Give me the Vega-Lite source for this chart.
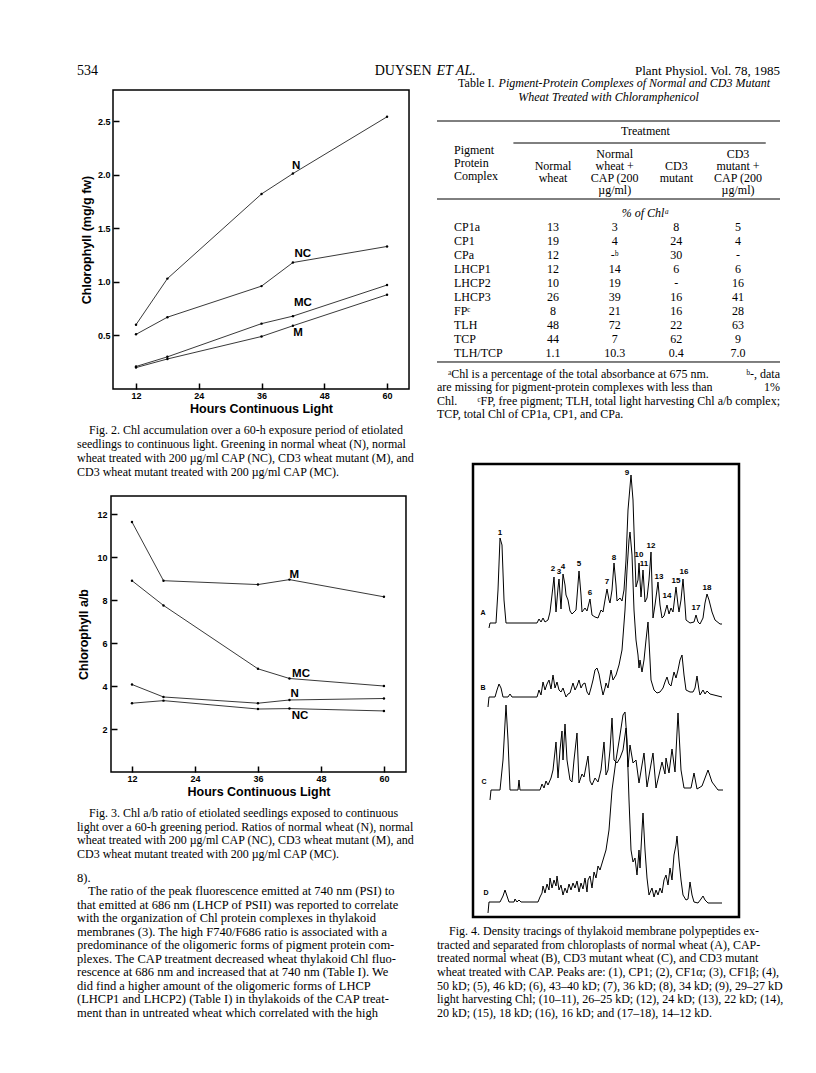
{
 "$schema": "https://vega.github.io/schema/vega-lite/v6.json",
 "background": "white",
 "padding": {"left": 77, "top": 64, "right": 0, "bottom": 0},
 "config": {
  "view": {"stroke": null},
  "axis": {"grid": false, "domain": false, "ticks": true, "tickColor": "black", "tickWidth": 1.5, "tickSize": -6, "labelFont": "Liberation Sans", "labelFontWeight": "bold", "labelFontSize": 9, "labelColor": "black", "titleFont": "Liberation Sans", "titleFontWeight": "bold", "titleFontSize": 12.5, "titleColor": "black"},
  "text": {"font": "Liberation Serif", "fontSize": 12, "color": "black"}
 },
 "datasets": {
  "fig2": [
   {"series":"N","hours":12,"chl":0.6},{"series":"N","hours":18,"chl":1.03},{"series":"N","hours":36,"chl":1.82},{"series":"N","hours":42,"chl":2.01},{"series":"N","hours":60,"chl":2.54},
   {"series":"NC","hours":12,"chl":0.51},{"series":"NC","hours":18,"chl":0.67},{"series":"NC","hours":36,"chl":0.96},{"series":"NC","hours":42,"chl":1.18},{"series":"NC","hours":60,"chl":1.33},
   {"series":"MC","hours":12,"chl":0.21},{"series":"MC","hours":18,"chl":0.3},{"series":"MC","hours":36,"chl":0.61},{"series":"MC","hours":42,"chl":0.68},{"series":"MC","hours":60,"chl":0.97},
   {"series":"M","hours":12,"chl":0.2},{"series":"M","hours":18,"chl":0.28},{"series":"M","hours":36,"chl":0.49},{"series":"M","hours":42,"chl":0.59},{"series":"M","hours":60,"chl":0.88}
  ],
  "fig2labels": [{"series":"N","hours":42.6,"chl":2.08},{"series":"NC","hours":43.9,"chl":1.26},{"series":"MC","hours":43.9,"chl":0.8},{"series":"M","hours":43,"chl":0.52}],
  "fig3": [
   {"series":"M","hours":12,"ratio":11.63},{"series":"M","hours":18,"ratio":8.9},{"series":"M","hours":36,"ratio":8.72},{"series":"M","hours":42,"ratio":8.95},{"series":"M","hours":60,"ratio":8.15},
   {"series":"MC","hours":12,"ratio":8.9},{"series":"MC","hours":18,"ratio":7.75},{"series":"MC","hours":36,"ratio":4.8},{"series":"MC","hours":42,"ratio":4.35},{"series":"MC","hours":60,"ratio":4.0},
   {"series":"N","hours":12,"ratio":4.07},{"series":"N","hours":18,"ratio":3.49},{"series":"N","hours":36,"ratio":3.2},{"series":"N","hours":42,"ratio":3.35},{"series":"N","hours":60,"ratio":3.42},
   {"series":"NC","hours":12,"ratio":3.2},{"series":"NC","hours":18,"ratio":3.32},{"series":"NC","hours":36,"ratio":2.93},{"series":"NC","hours":42,"ratio":2.95},{"series":"NC","hours":60,"ratio":2.84}
  ],
  "fig3labels": [{"series":"M","hours":42.9,"ratio":9.16},{"series":"MC","hours":44.2,"ratio":4.56},{"series":"N","hours":43,"ratio":3.63},{"series":"NC","hours":44,"ratio":2.6}],
  "fig4": [
   {"t":"A","d":16,"v":289},{"t":"A","d":17,"v":294},{"t":"A","d":23,"v":294},{"t":"A","d":25,"v":327},{"t":"A","d":27,"v":379},{"t":"A","d":29,"v":372},{"t":"A","d":31,"v":317},{"t":"A","d":33,"v":294},{"t":"A","d":64,"v":294},{"t":"A","d":66,"v":298},{"t":"A","d":68,"v":295},{"t":"A","d":70,"v":299},{"t":"A","d":72,"v":295},{"t":"A","d":75,"v":297},{"t":"A","d":77,"v":305},{"t":"A","d":79,"v":322},{"t":"A","d":81,"v":340},{"t":"A","d":83,"v":305},{"t":"A","d":85,"v":329},{"t":"A","d":86,"v":338},{"t":"A","d":88,"v":308},{"t":"A","d":90,"v":343},{"t":"A","d":92,"v":332},{"t":"A","d":93,"v":322},{"t":"A","d":95,"v":317},{"t":"A","d":97,"v":306},{"t":"A","d":99,"v":303},{"t":"A","d":101,"v":305},{"t":"A","d":103,"v":307},{"t":"A","d":106,"v":346},{"t":"A","d":108,"v":322},{"t":"A","d":109,"v":305},{"t":"A","d":112,"v":309},{"t":"A","d":114,"v":306},{"t":"A","d":117,"v":318},{"t":"A","d":119,"v":302},{"t":"A","d":122,"v":300},{"t":"A","d":125,"v":299},{"t":"A","d":128,"v":307},{"t":"A","d":130,"v":305},{"t":"A","d":132,"v":317},{"t":"A","d":134,"v":328},{"t":"A","d":136,"v":317},{"t":"A","d":137,"v":314},{"t":"A","d":139,"v":327},{"t":"A","d":141,"v":354},{"t":"A","d":143,"v":332},{"t":"A","d":144,"v":316},{"t":"A","d":147,"v":319},{"t":"A","d":149,"v":316},{"t":"A","d":151,"v":327},{"t":"A","d":153,"v":357},{"t":"A","d":155,"v":407},{"t":"A","d":158,"v":442},{"t":"A","d":160,"v":417},{"t":"A","d":162,"v":357},{"t":"A","d":163,"v":330},{"t":"A","d":165,"v":337},{"t":"A","d":166,"v":354},{"t":"A","d":168,"v":320},{"t":"A","d":170,"v":347},{"t":"A","d":172,"v":315},{"t":"A","d":174,"v":319},{"t":"A","d":176,"v":337},{"t":"A","d":178,"v":365},{"t":"A","d":180,"v":299},{"t":"A","d":182,"v":312},{"t":"A","d":185,"v":335},{"t":"A","d":187,"v":312},{"t":"A","d":189,"v":299},{"t":"A","d":191,"v":301},{"t":"A","d":194,"v":312},{"t":"A","d":196,"v":303},{"t":"A","d":198,"v":309},{"t":"A","d":200,"v":305},{"t":"A","d":203,"v":330},{"t":"A","d":205,"v":312},{"t":"A","d":206,"v":305},{"t":"A","d":208,"v":317},{"t":"A","d":210,"v":338},{"t":"A","d":212,"v":312},{"t":"A","d":213,"v":297},{"t":"A","d":217,"v":294},{"t":"A","d":221,"v":295},{"t":"A","d":223,"v":302},{"t":"A","d":225,"v":295},{"t":"A","d":227,"v":293},{"t":"A","d":230,"v":299},{"t":"A","d":232,"v":314},{"t":"A","d":234,"v":323},{"t":"A","d":236,"v":317},{"t":"A","d":239,"v":305},{"t":"A","d":242,"v":297},{"t":"A","d":247,"v":293},{"t":"A","d":249,"v":293},
   {"t":"B","d":15,"v":210},{"t":"B","d":16,"v":220},{"t":"B","d":22,"v":220},{"t":"B","d":24,"v":227},{"t":"B","d":26,"v":233},{"t":"B","d":28,"v":229},{"t":"B","d":30,"v":220},{"t":"B","d":35,"v":220},{"t":"B","d":37,"v":223},{"t":"B","d":39,"v":220},{"t":"B","d":64,"v":220},{"t":"B","d":66,"v":227},{"t":"B","d":68,"v":222},{"t":"B","d":70,"v":235},{"t":"B","d":72,"v":227},{"t":"B","d":74,"v":233},{"t":"B","d":76,"v":237},{"t":"B","d":78,"v":228},{"t":"B","d":80,"v":242},{"t":"B","d":82,"v":229},{"t":"B","d":84,"v":235},{"t":"B","d":86,"v":227},{"t":"B","d":88,"v":225},{"t":"B","d":90,"v":229},{"t":"B","d":93,"v":220},{"t":"B","d":95,"v":223},{"t":"B","d":97,"v":224},{"t":"B","d":100,"v":234},{"t":"B","d":102,"v":227},{"t":"B","d":104,"v":231},{"t":"B","d":106,"v":237},{"t":"B","d":108,"v":229},{"t":"B","d":110,"v":233},{"t":"B","d":112,"v":234},{"t":"B","d":114,"v":225},{"t":"B","d":116,"v":222},{"t":"B","d":118,"v":229},{"t":"B","d":120,"v":237},{"t":"B","d":122,"v":247},{"t":"B","d":124,"v":249},{"t":"B","d":126,"v":243},{"t":"B","d":128,"v":232},{"t":"B","d":130,"v":222},{"t":"B","d":132,"v":229},{"t":"B","d":133,"v":234},{"t":"B","d":135,"v":229},{"t":"B","d":137,"v":241},{"t":"B","d":138,"v":247},{"t":"B","d":140,"v":237},{"t":"B","d":143,"v":242},{"t":"B","d":146,"v":252},{"t":"B","d":149,"v":267},{"t":"B","d":152,"v":307},{"t":"B","d":154,"v":347},{"t":"B","d":156,"v":377},{"t":"B","d":157,"v":385},{"t":"B","d":159,"v":362},{"t":"B","d":161,"v":307},{"t":"B","d":163,"v":277},{"t":"B","d":165,"v":262},{"t":"B","d":166,"v":249},{"t":"B","d":167,"v":257},{"t":"B","d":169,"v":245},{"t":"B","d":171,"v":257},{"t":"B","d":173,"v":277},{"t":"B","d":175,"v":295},{"t":"B","d":177,"v":257},{"t":"B","d":178,"v":237},{"t":"B","d":181,"v":227},{"t":"B","d":184,"v":224},{"t":"B","d":187,"v":225},{"t":"B","d":190,"v":229},{"t":"B","d":192,"v":235},{"t":"B","d":194,"v":240},{"t":"B","d":196,"v":233},{"t":"B","d":198,"v":231},{"t":"B","d":201,"v":245},{"t":"B","d":203,"v":239},{"t":"B","d":205,"v":247},{"t":"B","d":207,"v":257},{"t":"B","d":209,"v":262},{"t":"B","d":211,"v":242},{"t":"B","d":213,"v":227},{"t":"B","d":217,"v":225},{"t":"B","d":220,"v":225},{"t":"B","d":222,"v":229},{"t":"B","d":224,"v":241},{"t":"B","d":226,"v":227},{"t":"B","d":227,"v":222},{"t":"B","d":230,"v":227},{"t":"B","d":232,"v":223},{"t":"B","d":234,"v":226},{"t":"B","d":237,"v":223},{"t":"B","d":241,"v":222},{"t":"B","d":249,"v":220},
   {"t":"C","d":17,"v":117},{"t":"C","d":18,"v":127},{"t":"C","d":27,"v":127},{"t":"C","d":30,"v":157},{"t":"C","d":33,"v":212},{"t":"C","d":35,"v":177},{"t":"C","d":37,"v":127},{"t":"C","d":45,"v":127},{"t":"C","d":46,"v":137},{"t":"C","d":47,"v":127},{"t":"C","d":67,"v":127},{"t":"C","d":69,"v":133},{"t":"C","d":71,"v":129},{"t":"C","d":73,"v":136},{"t":"C","d":75,"v":132},{"t":"C","d":78,"v":139},{"t":"C","d":80,"v":147},{"t":"C","d":83,"v":175},{"t":"C","d":85,"v":139},{"t":"C","d":87,"v":167},{"t":"C","d":89,"v":186},{"t":"C","d":90,"v":157},{"t":"C","d":92,"v":193},{"t":"C","d":94,"v":157},{"t":"C","d":97,"v":137},{"t":"C","d":99,"v":135},{"t":"C","d":101,"v":157},{"t":"C","d":104,"v":184},{"t":"C","d":106,"v":134},{"t":"C","d":109,"v":143},{"t":"C","d":111,"v":140},{"t":"C","d":115,"v":161},{"t":"C","d":117,"v":136},{"t":"C","d":119,"v":132},{"t":"C","d":122,"v":139},{"t":"C","d":125,"v":135},{"t":"C","d":128,"v":147},{"t":"C","d":131,"v":175},{"t":"C","d":133,"v":142},{"t":"C","d":135,"v":147},{"t":"C","d":137,"v":167},{"t":"C","d":139,"v":199},{"t":"C","d":141,"v":157},{"t":"C","d":144,"v":154},{"t":"C","d":147,"v":159},{"t":"C","d":150,"v":167},{"t":"C","d":153,"v":189},{"t":"C","d":155,"v":150},{"t":"C","d":157,"v":172},{"t":"C","d":160,"v":154},{"t":"C","d":163,"v":157},{"t":"C","d":166,"v":134},{"t":"C","d":171,"v":164},{"t":"C","d":174,"v":130},{"t":"C","d":180,"v":164},{"t":"C","d":183,"v":129},{"t":"C","d":189,"v":155},{"t":"C","d":192,"v":143},{"t":"C","d":193,"v":159},{"t":"C","d":196,"v":144},{"t":"C","d":199,"v":168},{"t":"C","d":202,"v":145},{"t":"C","d":205,"v":204},{"t":"C","d":208,"v":147},{"t":"C","d":211,"v":129},{"t":"C","d":218,"v":129},{"t":"C","d":221,"v":144},{"t":"C","d":224,"v":128},{"t":"C","d":229,"v":131},{"t":"C","d":232,"v":139},{"t":"C","d":235,"v":147},{"t":"C","d":239,"v":135},{"t":"C","d":245,"v":127},{"t":"C","d":250,"v":127},
   {"t":"D","d":15,"v":4},{"t":"D","d":16,"v":15},{"t":"D","d":27,"v":15},{"t":"D","d":30,"v":21},{"t":"D","d":32,"v":27},{"t":"D","d":34,"v":21},{"t":"D","d":36,"v":15},{"t":"D","d":41,"v":15},{"t":"D","d":42,"v":18},{"t":"D","d":44,"v":15},{"t":"D","d":46,"v":17},{"t":"D","d":48,"v":15},{"t":"D","d":65,"v":15},{"t":"D","d":67,"v":20},{"t":"D","d":69,"v":24},{"t":"D","d":70,"v":31},{"t":"D","d":72,"v":24},{"t":"D","d":74,"v":33},{"t":"D","d":76,"v":27},{"t":"D","d":77,"v":39},{"t":"D","d":79,"v":29},{"t":"D","d":81,"v":37},{"t":"D","d":83,"v":31},{"t":"D","d":84,"v":41},{"t":"D","d":86,"v":27},{"t":"D","d":88,"v":32},{"t":"D","d":90,"v":22},{"t":"D","d":92,"v":29},{"t":"D","d":94,"v":24},{"t":"D","d":96,"v":33},{"t":"D","d":98,"v":27},{"t":"D","d":100,"v":34},{"t":"D","d":102,"v":29},{"t":"D","d":104,"v":36},{"t":"D","d":106,"v":25},{"t":"D","d":108,"v":34},{"t":"D","d":110,"v":28},{"t":"D","d":112,"v":39},{"t":"D","d":114,"v":25},{"t":"D","d":115,"v":37},{"t":"D","d":117,"v":41},{"t":"D","d":119,"v":29},{"t":"D","d":121,"v":45},{"t":"D","d":123,"v":39},{"t":"D","d":125,"v":51},{"t":"D","d":127,"v":47},{"t":"D","d":130,"v":57},{"t":"D","d":133,"v":67},{"t":"D","d":136,"v":87},{"t":"D","d":139,"v":127},{"t":"D","d":143,"v":157},{"t":"D","d":147,"v":182},{"t":"D","d":150,"v":202},{"t":"D","d":152,"v":205},{"t":"D","d":154,"v":177},{"t":"D","d":156,"v":117},{"t":"D","d":158,"v":67},{"t":"D","d":160,"v":55},{"t":"D","d":162,"v":59},{"t":"D","d":164,"v":42},{"t":"D","d":166,"v":67},{"t":"D","d":167,"v":49},{"t":"D","d":169,"v":87},{"t":"D","d":170,"v":104},{"t":"D","d":172,"v":67},{"t":"D","d":174,"v":39},{"t":"D","d":176,"v":22},{"t":"D","d":179,"v":29},{"t":"D","d":181,"v":20},{"t":"D","d":183,"v":27},{"t":"D","d":185,"v":22},{"t":"D","d":187,"v":29},{"t":"D","d":189,"v":24},{"t":"D","d":191,"v":37},{"t":"D","d":193,"v":42},{"t":"D","d":195,"v":32},{"t":"D","d":197,"v":49},{"t":"D","d":199,"v":37},{"t":"D","d":201,"v":62},{"t":"D","d":203,"v":72},{"t":"D","d":204,"v":81},{"t":"D","d":206,"v":57},{"t":"D","d":208,"v":37},{"t":"D","d":210,"v":22},{"t":"D","d":213,"v":17},{"t":"D","d":215,"v":18},{"t":"D","d":217,"v":35},{"t":"D","d":219,"v":22},{"t":"D","d":221,"v":15},{"t":"D","d":225,"v":14},{"t":"D","d":228,"v":18},{"t":"D","d":230,"v":21},{"t":"D","d":232,"v":17},{"t":"D","d":235,"v":14},{"t":"D","d":249,"v":14}
  ],
  "fig4peaks": [{"p":"1","d":27,"v":384},{"p":"2","d":80,"v":348},{"p":"3","d":86,"v":345},{"p":"4","d":90,"v":350},{"p":"5","d":106,"v":353},{"p":"6","d":117,"v":324},{"p":"7","d":134,"v":335},{"p":"8","d":141,"v":359},{"p":"9","d":154,"v":444},{"p":"10","d":166,"v":362},{"p":"11","d":171,"v":353},{"p":"12","d":178,"v":371},{"p":"13","d":186,"v":340},{"p":"14","d":194,"v":321},{"p":"15","d":203,"v":336},{"p":"16","d":211,"v":345},{"p":"17","d":223,"v":309},{"p":"18","d":234,"v":329}],
  "fig4traces": [{"t":"A","d":10,"v":304},{"t":"B","d":10,"v":229},{"t":"C","d":11,"v":135},{"t":"D","d":13,"v":24}],
  "tablerows": [{"complex":"CP1a","line":0},{"complex":"CP1","line":1},{"complex":"CPa","line":2},{"complex":"LHCP1","line":3},{"complex":"LHCP2","line":4},{"complex":"LHCP3","line":5},{"complex":"FPᶜ","line":6},{"complex":"TLH","line":7},{"complex":"TCP","line":8},{"complex":"TLH/TCP","line":9}],
  "tablevalues": [
   {"complex":"CP1a","line":0,"col":1,"value":"13"},{"complex":"CP1a","line":0,"col":2,"value":"3"},{"complex":"CP1a","line":0,"col":3,"value":"8"},{"complex":"CP1a","line":0,"col":4,"value":"5"},
   {"complex":"CP1","line":1,"col":1,"value":"19"},{"complex":"CP1","line":1,"col":2,"value":"4"},{"complex":"CP1","line":1,"col":3,"value":"24"},{"complex":"CP1","line":1,"col":4,"value":"4"},
   {"complex":"CPa","line":2,"col":1,"value":"12"},{"complex":"CPa","line":2,"col":2,"value":"-ᵇ"},{"complex":"CPa","line":2,"col":3,"value":"30"},{"complex":"CPa","line":2,"col":4,"value":"-"},
   {"complex":"LHCP1","line":3,"col":1,"value":"12"},{"complex":"LHCP1","line":3,"col":2,"value":"14"},{"complex":"LHCP1","line":3,"col":3,"value":"6"},{"complex":"LHCP1","line":3,"col":4,"value":"6"},
   {"complex":"LHCP2","line":4,"col":1,"value":"10"},{"complex":"LHCP2","line":4,"col":2,"value":"19"},{"complex":"LHCP2","line":4,"col":3,"value":"-"},{"complex":"LHCP2","line":4,"col":4,"value":"16"},
   {"complex":"LHCP3","line":5,"col":1,"value":"26"},{"complex":"LHCP3","line":5,"col":2,"value":"39"},{"complex":"LHCP3","line":5,"col":3,"value":"16"},{"complex":"LHCP3","line":5,"col":4,"value":"41"},
   {"complex":"FP","line":6,"col":1,"value":"8"},{"complex":"FP","line":6,"col":2,"value":"21"},{"complex":"FP","line":6,"col":3,"value":"16"},{"complex":"FP","line":6,"col":4,"value":"28"},
   {"complex":"TLH","line":7,"col":1,"value":"48"},{"complex":"TLH","line":7,"col":2,"value":"72"},{"complex":"TLH","line":7,"col":3,"value":"22"},{"complex":"TLH","line":7,"col":4,"value":"63"},
   {"complex":"TCP","line":8,"col":1,"value":"44"},{"complex":"TCP","line":8,"col":2,"value":"7"},{"complex":"TCP","line":8,"col":3,"value":"62"},{"complex":"TCP","line":8,"col":4,"value":"9"},
   {"complex":"TLH/TCP","line":9,"col":1,"value":"1.1"},{"complex":"TLH/TCP","line":9,"col":2,"value":"10.3"},{"complex":"TLH/TCP","line":9,"col":3,"value":"0.4"},{"complex":"TLH/TCP","line":9,"col":4,"value":"7.0"}
  ],
  "tableheadcenter": [
   {"col":2.5,"line":-6.857,"text":"Treatment"},
   {"col":1,"line":-4.357,"text":"Normal"},{"col":1,"line":-3.5,"text":"wheat"},
   {"col":2,"line":-5.214,"text":"Normal"},{"col":2,"line":-4.357,"text":"wheat +"},{"col":2,"line":-3.5,"text":"CAP (200"},{"col":2,"line":-2.643,"text":"µg/ml)"},
   {"col":3,"line":-4.357,"text":"CD3"},{"col":3,"line":-3.5,"text":"mutant"},
   {"col":4,"line":-5.214,"text":"CD3"},{"col":4,"line":-4.357,"text":"mutant +"},{"col":4,"line":-3.5,"text":"CAP (200"},{"col":4,"line":-2.643,"text":"µg/ml)"}
  ],
  "tableheadleft": [{"col":0,"line":-5.5,"text":"Pigment"},{"col":0,"line":-4.571,"text":"Protein"},{"col":0,"line":-3.643,"text":"Complex"}]
 },
 "spacing": 0,
 "bounds": "flush",
 "vconcat": [
  {
   "width": 703, "height": 26,
   "encoding": {
    "y": {"field": "line", "type": "quantitative", "scale": {"domain": [-0.5, 1.357], "reverse": true, "nice": false, "zero": false}, "axis": null},
    "text": {"field": "text"}
   },
   "layer": [
    {"data": {"values": [{"text": "534", "line": 0}]}, "mark": {"type": "text", "align": "left", "fontSize": 14},
     "encoding": {"x": {"datum": "left", "type": "nominal", "scale": {"type": "point", "domain": ["left", "center", "right"], "padding": 0}, "axis": null}}},
    {"data": {"values": [{"text": "DUYSEN", "line": 0}]}, "mark": {"type": "text", "align": "right", "dx": 3, "fontSize": 14},
     "encoding": {"x": {"datum": "center", "type": "nominal", "scale": {"type": "point", "domain": ["left", "center", "right"], "padding": 0}, "axis": null}}},
    {"data": {"values": [{"text": "ET AL.", "line": 0}]}, "mark": {"type": "text", "align": "left", "dx": 8, "fontSize": 14, "fontStyle": "italic"},
     "encoding": {"x": {"datum": "center", "type": "nominal", "scale": {"type": "point", "domain": ["left", "center", "right"], "padding": 0}, "axis": null}}},
    {"data": {"values": [{"text": "Plant Physiol. Vol. 78, 1985", "line": 0}]}, "mark": {"type": "text", "align": "right", "fontSize": 13},
     "encoding": {"x": {"datum": "right", "type": "nominal", "scale": {"type": "point", "domain": ["left", "center", "right"], "padding": 0}, "axis": null}}}
   ]
  },
  {
   "spacing": 360,
   "bounds": "flush",
   "hconcat": [
    {
     "spacing": 0,
     "bounds": "flush",
     "vconcat": [
      {
       "width": 368, "height": 299,
       "layer": [
        {"data": {"values": [{"x0": 7.6, "x1": 64.2, "y0": 0, "y1": 2.79}]},
         "mark": {"type": "rect", "fill": "transparent", "stroke": "black", "strokeWidth": 1.5},
         "encoding": {
          "x": {"field": "x0", "type": "quantitative", "scale": {"domain": [0.716, 71.08], "nice": false, "zero": false}},
          "x2": {"field": "x1"},
          "y": {"field": "y0", "type": "quantitative", "scale": {"domain": [0, 2.79], "nice": false}},
          "y2": {"field": "y1"}
         }},
        {"data": {"name": "fig2"},
         "mark": {"type": "line", "color": "#222", "strokeWidth": 0.9, "point": {"filled": true, "size": 6, "color": "black"}},
         "encoding": {
          "x": {"field": "hours", "type": "quantitative", "scale": {"domain": [0.716, 71.08], "nice": false, "zero": false}, "axis": {"values": [12, 24, 36, 48, 60], "title": "Hours Continuous Light", "labelPadding": 8, "titlePadding": 2}},
          "y": {"field": "chl", "type": "quantitative", "scale": {"domain": [0, 2.79], "nice": false}, "axis": {"values": [0.5, 1, 1.5, 2, 2.5], "format": ".1f", "title": "Chlorophyll (mg/g fw)", "offset": -36, "labelPadding": 9, "titlePadding": 4}},
          "detail": {"field": "series"}
         }},
        {"data": {"name": "fig2labels"},
         "mark": {"type": "text", "font": "Liberation Sans", "fontWeight": "bold", "fontSize": 11.5},
         "encoding": {
          "x": {"field": "hours", "type": "quantitative"},
          "y": {"field": "chl", "type": "quantitative"},
          "text": {"field": "series"}
         }}
       ]
      },
      {
       "width": 333, "height": 107,
       "encoding": {
        "x": {"datum": "left", "type": "nominal", "scale": {"type": "point", "domain": ["left", "right"], "padding": 0}, "axis": null},
        "y": {"field": "line", "type": "quantitative", "scale": {"domain": [-2.929, 4.714], "reverse": true, "nice": false, "zero": false}, "axis": null},
        "text": {"field": "text"}
       },
       "layer": [
        {"data": {"values": [{"line": 0, "text": "Fig. 2. Chl accumulation over a 60-h exposure period of etiolated"}]},
         "mark": {"type": "text", "align": "left", "dx": 12, "fontSize": 12}},
        {"data": {"values": [
          {"line": 1, "text": "seedlings to continuous light. Greening in normal wheat (N), normal"},
          {"line": 2, "text": "wheat treated with 200 µg/ml CAP (NC), CD3 wheat mutant (M), and"},
          {"line": 3, "text": "CD3 wheat mutant treated with 200 µg/ml CAP (MC)."}
         ]},
         "mark": {"type": "text", "align": "left", "fontSize": 12}}
       ]
      },
      {
       "width": 363, "height": 276,
       "layer": [
        {"data": {"values": [{"x0": 8, "x1": 64.2, "y0": 0, "y1": 12.84}]},
         "mark": {"type": "rect", "fill": "transparent", "stroke": "black", "strokeWidth": 1.5},
         "encoding": {
          "x": {"field": "x0", "type": "quantitative", "scale": {"domain": [1.523, 70.68], "nice": false, "zero": false}},
          "x2": {"field": "x1"},
          "y": {"field": "y0", "type": "quantitative", "scale": {"domain": [0, 12.84], "nice": false}},
          "y2": {"field": "y1"}
         }},
        {"data": {"name": "fig3"},
         "mark": {"type": "line", "color": "#222", "strokeWidth": 0.9, "point": {"filled": true, "size": 6, "color": "black"}},
         "encoding": {
          "x": {"field": "hours", "type": "quantitative", "scale": {"domain": [1.523, 70.68], "nice": false, "zero": false}, "axis": {"values": [12, 24, 36, 48, 60], "title": "Hours Continuous Light", "labelPadding": 8, "titlePadding": 2}},
          "y": {"field": "ratio", "type": "quantitative", "scale": {"domain": [0, 12.84], "nice": false}, "axis": {"values": [2, 4, 6, 8, 10, 12], "title": "Chlorophyll a/b", "offset": -34, "labelPadding": 10, "titlePadding": 6}},
          "detail": {"field": "series"}
         }},
        {"data": {"name": "fig3labels"},
         "mark": {"type": "text", "font": "Liberation Sans", "fontWeight": "bold", "fontSize": 11.5},
         "encoding": {
          "x": {"field": "hours", "type": "quantitative"},
          "y": {"field": "ratio", "type": "quantitative"},
          "text": {"field": "series"}
         }}
       ]
      },
      {
       "width": 333, "height": 100,
       "encoding": {
        "x": {"datum": "left", "type": "nominal", "scale": {"type": "point", "domain": ["left", "right"], "padding": 0}, "axis": null},
        "y": {"field": "line", "type": "quantitative", "scale": {"domain": [-3.0, 4.315], "reverse": true, "nice": false, "zero": false}, "axis": null},
        "text": {"field": "text"}
       },
       "layer": [
        {"data": {"values": [{"line": 0, "text": "Fig. 3. Chl a/b ratio of etiolated seedlings exposed to continuous"}]},
         "mark": {"type": "text", "align": "left", "dx": 12, "fontSize": 12}},
        {"data": {"values": [
          {"line": 1, "text": "light over a 60-h greening period. Ratios of normal wheat (N), normal"},
          {"line": 2, "text": "wheat treated with 200 µg/ml CAP (NC), CD3 wheat mutant (M), and"},
          {"line": 3, "text": "CD3 wheat mutant treated with 200 µg/ml CAP (MC)."}
         ]},
         "mark": {"type": "text", "align": "left", "fontSize": 12}}
       ]
      },
      {
       "width": 333, "height": 150,
       "encoding": {
        "x": {"datum": "left", "type": "nominal", "scale": {"type": "point", "domain": ["left", "right"], "padding": 0}, "axis": null},
        "y": {"field": "line", "type": "quantitative", "scale": {"domain": [-0.444, 10.667], "reverse": true, "nice": false, "zero": false}, "axis": null},
        "text": {"field": "text"}
       },
       "layer": [
        {"data": {"values": [{"line": 1, "text": "The ratio of the peak fluorescence emitted at 740 nm (PSI) to"}]},
         "mark": {"type": "text", "align": "left", "dx": 11, "fontSize": 12.5}},
        {"data": {"values": [
          {"line": 0, "text": "8)."},
          {"line": 2, "text": "that emitted at 686 nm (LHCP of PSII) was reported to correlate"},
          {"line": 3, "text": "with the organization of Chl protein complexes in thylakoid"},
          {"line": 4, "text": "membranes (3). The high F740/F686 ratio is associated with a"},
          {"line": 5, "text": "predominance of the oligomeric forms of pigment protein com-"},
          {"line": 6, "text": "plexes. The CAP treatment decreased wheat thylakoid Chl fluo-"},
          {"line": 7, "text": "rescence at 686 nm and increased that at 740 nm (Table I). We"},
          {"line": 8, "text": "did find a higher amount of the oligomeric forms of LHCP"},
          {"line": 9, "text": "(LHCP1 and LHCP2) (Table I) in thylakoids of the CAP treat-"},
          {"line": 10, "text": "ment than in untreated wheat which correlated with the high"}
         ]},
         "mark": {"type": "text", "align": "left", "fontSize": 12.5}}
       ]
      }
     ]
    },
    {
     "spacing": 0,
     "bounds": "flush",
     "vconcat": [
      {
       "width": 343, "height": 276,
       "encoding": {
        "y": {"field": "line", "type": "quantitative", "scale": {"domain": [-9.786, 9.929], "reverse": true, "nice": false, "zero": false}, "axis": null}
       },
       "layer": [
        {"data": {"values": [{"col": 0.43, "line": -10.286, "text": "Table I."}]},
         "mark": {"type": "text", "align": "right", "dx": -2, "fontSize": 12},
         "encoding": {"x": {"field": "col", "type": "quantitative", "scale": {"domain": [0, 1, 4], "range": [17, 116, 301], "nice": false, "zero": false}, "axis": null}, "text": {"field": "text"}}},
        {"data": {"values": [{"col": 0.43, "line": -10.286, "text": "Pigment-Protein Complexes of Normal and CD3 Mutant"}]},
         "mark": {"type": "text", "align": "left", "dx": 2, "fontSize": 12, "fontStyle": "italic"},
         "encoding": {"x": {"field": "col", "type": "quantitative", "scale": {"domain": [0, 1, 4], "range": [17, 116, 301], "nice": false, "zero": false}, "axis": null}, "text": {"field": "text"}}},
        {"data": {"values": [{"col": 1.9, "line": -9.286, "text": "Wheat Treated with Chloramphenicol"}, {"col": 2.5, "line": -1, "text": "% of Chlᵃ"}]},
         "mark": {"type": "text", "align": "center", "fontSize": 12, "fontStyle": "italic"},
         "encoding": {"x": {"field": "col", "type": "quantitative", "scale": {"domain": [0, 1, 4], "range": [17, 116, 301], "nice": false, "zero": false}, "axis": null}, "text": {"field": "text"}}},
        {"data": {"name": "tableheadcenter"},
         "mark": {"type": "text", "align": "center", "fontSize": 12},
         "encoding": {"x": {"field": "col", "type": "quantitative", "scale": {"domain": [0, 1, 4], "range": [17, 116, 301], "nice": false, "zero": false}, "axis": null}, "text": {"field": "text"}}},
        {"data": {"name": "tableheadleft"},
         "mark": {"type": "text", "align": "left", "fontSize": 12},
         "encoding": {"x": {"field": "col", "type": "quantitative", "scale": {"domain": [0, 1, 4], "range": [17, 116, 301], "nice": false, "zero": false}, "axis": null}, "text": {"field": "text"}}},
        {"data": {"name": "tablerows"},
         "mark": {"type": "text", "align": "left", "fontSize": 12},
         "encoding": {"x": {"datum": 0, "type": "quantitative", "scale": {"domain": [0, 1, 4], "range": [17, 116, 301], "nice": false, "zero": false}, "axis": null}, "text": {"field": "complex"}}},
        {"data": {"name": "tablevalues"},
         "mark": {"type": "text", "align": "center", "fontSize": 12},
         "encoding": {"x": {"field": "col", "type": "quantitative", "scale": {"domain": [0, 1, 4], "range": [17, 116, 301], "nice": false, "zero": false}, "axis": null}, "text": {"field": "value"}}},
        {"data": {"values": [{"line": -7.571}, {"line": -2}, {"line": 9.643}]},
         "mark": {"type": "rule", "color": "black", "strokeWidth": 1},
         "encoding": {}},
        {"data": {"values": [{"line": -6, "from": 0.6, "to": 4.45}]},
         "mark": {"type": "rule", "color": "black", "strokeWidth": 1},
         "encoding": {"x": {"field": "from", "type": "quantitative", "scale": {"domain": [0, 1, 4], "range": [17, 116, 301], "nice": false, "zero": false}, "axis": null}, "x2": {"field": "to"}}}
       ]
      },
      {
       "width": 343, "height": 98,
       "encoding": {
        "y": {"field": "line", "type": "quantitative", "scale": {"domain": [-0.556, 6.7], "reverse": true, "nice": false, "zero": false}, "axis": null},
        "text": {"field": "text"}
       },
       "layer": [
        {"data": {"values": [{"line": 0, "text": "ᵃChl is a percentage of the total absorbance at 675 nm."}]},
         "mark": {"type": "text", "align": "left", "dx": 11, "fontSize": 12},
         "encoding": {"x": {"datum": "left", "type": "nominal", "scale": {"type": "point", "domain": ["left", "right"], "padding": 0}, "axis": null}}},
        {"data": {"values": [
          {"line": 1, "text": "are missing for pigment-protein complexes with less than"},
          {"line": 2, "text": "Chl."},
          {"line": 3, "text": "TCP, total Chl of CP1a, CP1, and CPa."}
         ]},
         "mark": {"type": "text", "align": "left", "fontSize": 12},
         "encoding": {"x": {"datum": "left", "type": "nominal", "scale": {"type": "point", "domain": ["left", "right"], "padding": 0}, "axis": null}}},
        {"data": {"values": [
          {"line": 0, "text": "ᵇ-, data"},
          {"line": 1, "text": "1%"},
          {"line": 2, "text": "ᶜFP, free pigment; TLH, total light harvesting Chl a/b complex;"}
         ]},
         "mark": {"type": "text", "align": "right", "fontSize": 12},
         "encoding": {"x": {"datum": "right", "type": "nominal", "scale": {"type": "point", "domain": ["left", "right"], "padding": 0}, "axis": null}}}
       ]
      },
      {
       "width": 343, "height": 453,
       "layer": [
        {"data": {"values": [{"x0": 0, "x1": 266, "y0": 0, "y1": 453}]},
         "mark": {"type": "rect", "fill": "transparent", "stroke": "black", "strokeWidth": 2.5},
         "encoding": {
          "x": {"field": "x0", "type": "quantitative", "scale": {"domain": [-36, 307], "nice": false, "zero": false}, "axis": null},
          "x2": {"field": "x1"},
          "y": {"field": "y0", "type": "quantitative", "scale": {"domain": [0, 453], "nice": false}, "axis": null},
          "y2": {"field": "y1"}
         }},
        {"data": {"name": "fig4"},
         "mark": {"type": "line", "color": "black", "strokeWidth": 1},
         "encoding": {
          "x": {"field": "d", "type": "quantitative", "scale": {"domain": [-36, 307], "nice": false, "zero": false}, "axis": null},
          "y": {"field": "v", "type": "quantitative", "scale": {"domain": [0, 453], "nice": false}, "axis": null},
          "detail": {"field": "t"}
         }},
        {"data": {"name": "fig4peaks"},
         "mark": {"type": "text", "font": "Liberation Sans", "fontWeight": "bold", "fontSize": 8},
         "encoding": {
          "x": {"field": "d", "type": "quantitative"},
          "y": {"field": "v", "type": "quantitative"},
          "text": {"field": "p"}
         }},
        {"data": {"name": "fig4traces"},
         "mark": {"type": "text", "font": "Liberation Sans", "fontWeight": "bold", "fontSize": 7},
         "encoding": {
          "x": {"field": "d", "type": "quantitative"},
          "y": {"field": "v", "type": "quantitative"},
          "text": {"field": "t"}
         }}
       ]
      },
      {
       "width": 343, "height": 105,
       "encoding": {
        "x": {"datum": "left", "type": "nominal", "scale": {"type": "point", "domain": ["left", "right"], "padding": 0}, "axis": null},
        "y": {"field": "line", "type": "quantitative", "scale": {"domain": [-1.024, 6.657], "reverse": true, "nice": false, "zero": false}, "axis": null},
        "text": {"field": "text"}
       },
       "layer": [
        {"data": {"values": [{"line": 0, "text": "Fig. 4. Density tracings of thylakoid membrane polypeptides ex-"}]},
         "mark": {"type": "text", "align": "left", "dx": 12, "fontSize": 12}},
        {"data": {"values": [
          {"line": 1, "text": "tracted and separated from chloroplasts of normal wheat (A), CAP-"},
          {"line": 2, "text": "treated normal wheat (B), CD3 mutant wheat (C), and CD3 mutant"},
          {"line": 3, "text": "wheat treated with CAP. Peaks are: (1), CP1; (2), CF1α; (3), CF1β; (4),"},
          {"line": 4, "text": "50 kD; (5), 46 kD; (6), 43–40 kD; (7), 36 kD; (8), 34 kD; (9), 29–27 kD"},
          {"line": 5, "text": "light harvesting Chl; (10–11), 26–25 kD; (12), 24 kD; (13), 22 kD; (14),"},
          {"line": 6, "text": "20 kD; (15), 18 kD; (16), 16 kD; and (17–18), 14–12 kD."}
         ]},
         "mark": {"type": "text", "align": "left", "fontSize": 12}}
       ]
      }
     ]
    }
   ]
  }
 ]
}
